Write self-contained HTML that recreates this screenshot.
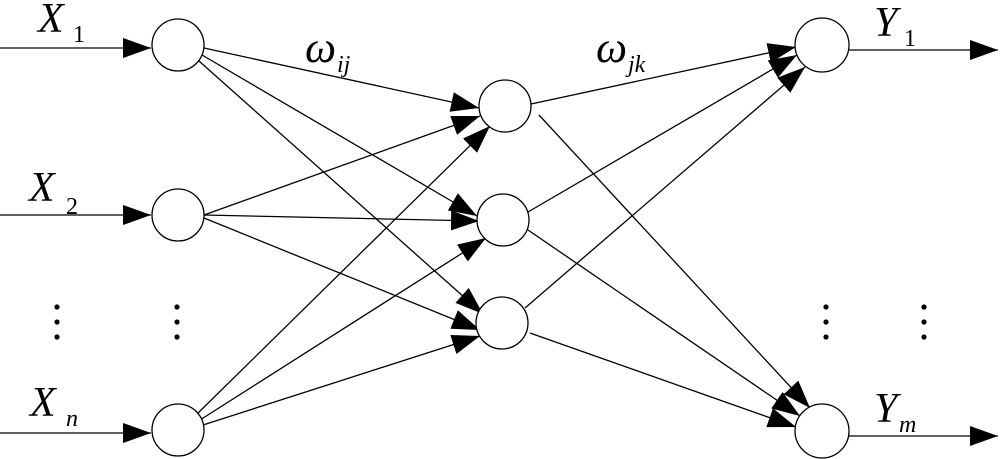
<!DOCTYPE html>
<html><head><meta charset="utf-8"><style>
html,body{margin:0;padding:0;background:#fff;}
svg{display:block;}
</style></head><body>
<svg width="1000" height="459" viewBox="0 0 1000 459" xmlns="http://www.w3.org/2000/svg">
<defs>
<marker id="a" markerWidth="28" markerHeight="20" refX="28" refY="10" orient="auto" markerUnits="userSpaceOnUse">
<path d="M0,0 L28,10 L0,20 Z" fill="#000"/>
</marker>
</defs>
<g stroke="#000" stroke-width="1.3" fill="none" marker-end="url(#a)">
<line x1="0" y1="48" x2="151" y2="48"/>
<line x1="0" y1="215" x2="151" y2="215"/>
<line x1="0" y1="433" x2="151" y2="433"/>
<line x1="204" y1="48" x2="479" y2="108"/>
<line x1="202" y1="55" x2="477" y2="216"/>
<line x1="199" y1="61" x2="483" y2="314"/>
<line x1="204" y1="215" x2="480" y2="116"/>
<line x1="204" y1="215" x2="479" y2="221"/>
<line x1="204" y1="218" x2="480" y2="330"/>
<line x1="196" y1="415" x2="490" y2="126"/>
<line x1="200" y1="420" x2="486" y2="238"/>
<line x1="203" y1="425" x2="480" y2="336"/>
<line x1="531" y1="104" x2="796" y2="47"/>
<line x1="528" y1="212" x2="797" y2="55"/>
<line x1="525" y1="308" x2="805" y2="67"/>
<line x1="539" y1="115" x2="810" y2="408"/>
<line x1="528" y1="230" x2="800" y2="416"/>
<line x1="530" y1="333" x2="796" y2="427"/>
<line x1="848" y1="50" x2="998" y2="50"/>
<line x1="848" y1="436" x2="998" y2="436"/>
</g>
<g stroke="#000" stroke-width="1.3" fill="#fff">
<circle cx="178" cy="45" r="26"/>
<circle cx="178" cy="215" r="26"/>
<circle cx="178" cy="430" r="26"/>
<circle cx="505" cy="106" r="26"/>
<circle cx="503" cy="220" r="26"/>
<circle cx="502" cy="323" r="26"/>
<circle cx="822" cy="45" r="27"/>
<circle cx="822" cy="431" r="27"/>
</g>
<g fill="#000">
<circle cx="57" cy="307" r="2.6"/><circle cx="57" cy="322" r="2.6"/><circle cx="57" cy="337" r="2.6"/>
<circle cx="177" cy="307" r="2.6"/><circle cx="177" cy="322" r="2.6"/><circle cx="177" cy="337" r="2.6"/>
<circle cx="826" cy="307" r="2.6"/><circle cx="826" cy="322" r="2.6"/><circle cx="826" cy="337" r="2.6"/>
<circle cx="924" cy="307" r="2.6"/><circle cx="924" cy="322" r="2.6"/><circle cx="924" cy="337" r="2.6"/>
</g>
<g fill="#000" style="font-family:'Liberation Serif','DejaVu Serif',serif;">
<text x="38" y="32" style="font-size:42px;font-style:italic">X</text><text x="73" y="42" style="font-size:24px;font-style:normal">1</text>
<text x="29" y="201" style="font-size:42px;font-style:italic">X</text><text x="66" y="214" style="font-size:24px;font-style:normal">2</text>
<text x="30" y="416" style="font-size:42px;font-style:italic">X</text><text x="66" y="426" style="font-size:24px;font-style:italic">n</text>
<text x="305" y="62" style="font-size:44px;font-style:italic">ω</text><text x="337" y="72" style="font-size:24px;font-style:italic">ij</text>
<text x="596" y="62" style="font-size:44px;font-style:italic">ω</text><text x="628" y="72" style="font-size:24px;font-style:italic">jk</text>
<text x="874" y="36" style="font-size:42px;font-style:italic">Y</text><text x="904" y="46" style="font-size:24px;font-style:normal">1</text>
<text x="874" y="422" style="font-size:42px;font-style:italic">Y</text><text x="899" y="432" style="font-size:24px;font-style:italic">m</text>
</g>
</svg>
</body></html>
